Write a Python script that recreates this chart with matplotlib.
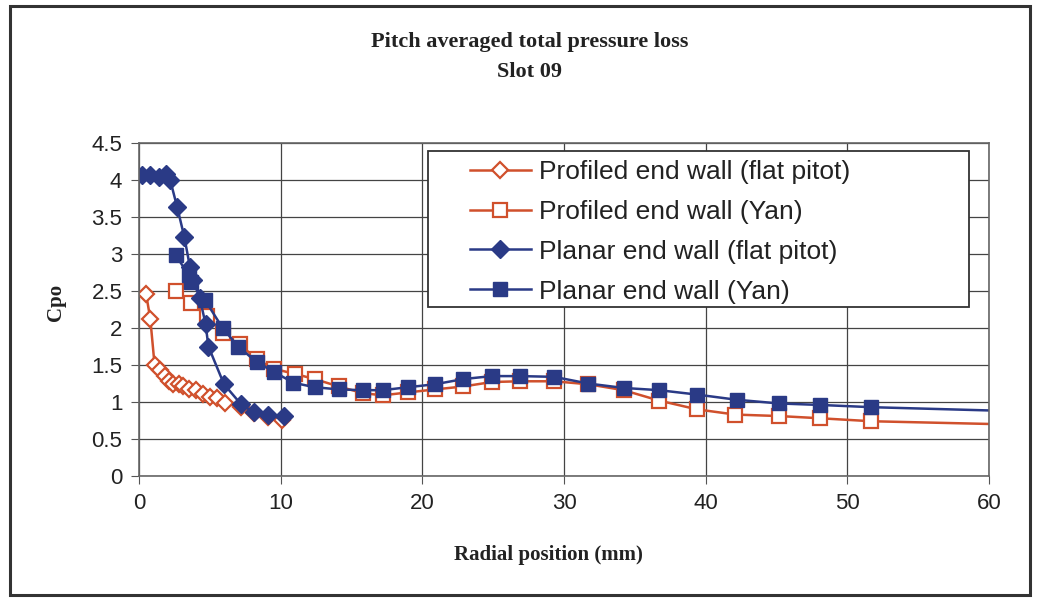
import matplotlib
matplotlib.use("Agg")
import matplotlib.pyplot as plt
import matplotlib.patches as patches

# Profiled end wall (flat pitot)
prof_flat_x = [0.5, 0.8, 1.1, 1.5, 1.8, 2.1, 2.4, 2.8, 3.1, 3.5, 4.0, 4.5, 5.0, 5.5, 6.1, 7.2, 8.1, 9.1, 10.1]
prof_flat_y = [2.46, 2.12, 1.50, 1.43, 1.35, 1.28, 1.25, 1.24, 1.21, 1.18, 1.16, 1.11, 1.07, 1.05, 0.98, 0.93, 0.85, 0.80, 0.76]

# Profiled end wall (Yan)
prof_yan_x = [2.6, 3.7, 4.8, 5.9, 7.1, 8.3, 9.5, 11.0, 12.4, 14.1, 15.8, 17.2, 19.0, 20.9, 22.9, 24.9, 26.9,
              29.3, 31.7, 34.2, 36.7, 39.4, 42.1, 45.2, 48.1, 51.7, 63.0]
prof_yan_y = [2.50, 2.34, 2.16, 1.93, 1.78, 1.58, 1.45, 1.38, 1.31, 1.21, 1.12, 1.09, 1.13, 1.17, 1.21, 1.27, 1.28,
              1.28, 1.24, 1.16, 1.02, 0.90, 0.83, 0.81, 0.78, 0.74, 0.69]

# Planar end wall (flat pitot)
plan_flat_x = [0.2, 0.8, 1.4, 1.9, 2.2, 2.7, 3.2, 3.6, 3.8, 4.3, 4.7, 4.9, 6.0, 7.2, 8.1, 9.1, 10.2]
plan_flat_y = [4.07, 4.07, 4.04, 4.08, 4.00, 3.63, 3.23, 2.82, 2.65, 2.40, 2.05, 1.75, 1.24, 0.97, 0.86, 0.82, 0.81]

# Planar end wall (Yan)
plan_yan_x = [2.6, 3.5, 3.7, 4.65, 5.9, 7.0, 8.3, 9.5, 10.9, 12.4, 14.1, 15.8, 17.2, 19.0, 20.9, 22.9, 24.9, 26.9,
              29.3, 31.7, 34.2, 36.7, 39.4, 42.2, 45.2, 48.1, 51.7, 63.0]
plan_yan_y = [2.98, 2.72, 2.62, 2.38, 2.00, 1.75, 1.54, 1.41, 1.26, 1.20, 1.17, 1.16, 1.16, 1.20, 1.24, 1.31, 1.35, 1.35,
              1.34, 1.25, 1.19, 1.16, 1.10, 1.03, 0.98, 0.96, 0.93, 0.87]

orange = "#d0502c"
blue = "#2a3a86"
ink = "#222222"

fig = plt.figure(figsize=(10.39, 6.01), dpi=100)
fig.patches.append(patches.Rectangle((10 / 1039, 6 / 601), 1020 / 1039, 589 / 601, transform=fig.transFigure,
                                     fill=False, edgecolor="#333333", linewidth=2.2))

ax = fig.add_axes([139 / 1039, 1 - 476 / 601, (989 - 139) / 1039, (476 - 143) / 601])

ax.plot(prof_flat_x, prof_flat_y, color=orange, lw=1.8, marker="D", ms=8, mfc="white", mec=orange, mew=1.6,
        label="Profiled end wall (flat pitot)")
ax.plot(prof_yan_x, prof_yan_y, color=orange, lw=1.8, marker="s", ms=10, mfc="white", mec=orange, mew=1.6,
        label="Profiled end wall (Yan)")
ax.plot(plan_flat_x, plan_flat_y, color=blue, lw=1.8, marker="D", ms=9, mfc=blue, mec=blue,
        label="Planar end wall (flat pitot)")
ax.plot(plan_yan_x, plan_yan_y, color=blue, lw=1.8, marker="s", ms=10.5, mfc=blue, mec=blue,
        label="Planar end wall (Yan)")

ax.set_xlim(0, 60)
ax.set_ylim(0, 4.5)
ax.set_xticks(range(0, 61, 10))
ax.set_yticks([i * 0.5 for i in range(10)])
ax.set_yticklabels(["0", "0.5", "1", "1.5", "2", "2.5", "3", "3.5", "4", "4.5"])
ax.grid(True, color="#444444", linewidth=0.9)
ax.set_axisbelow(True)
for s in ax.spines.values():
    s.set_color("#666666")
    s.set_linewidth(1.2)
ax.tick_params(direction="out", length=6, color="#555555", labelsize=16, labelcolor=ink, pad=6)
for lab in ax.get_xticklabels() + ax.get_yticklabels():
    lab.set_family("Liberation Sans")

ax.set_xlabel("Radial position (mm)", family="Liberation Serif", fontweight="bold", fontsize=15, color=ink)
ax.xaxis.set_label_coords((548 - 139) / 850, -(555 - 476) / 333)
ax.set_ylabel("Cpo", family="Liberation Serif", fontweight="bold", fontsize=15, color=ink)
ax.yaxis.set_label_coords(-(139 - 56) / 850, 1 - (302 - 143) / 333)
ax.xaxis.label.set_va("center")
ax.yaxis.label.set_va("center")

fig.text(0.51, 1 - 42 / 601, "Pitch averaged total pressure loss", ha="center", va="center",
         family="Liberation Serif", fontweight="bold", fontsize=16, color=ink)
fig.text(0.51, 1 - 72 / 601, "Slot 09", ha="center", va="center",
         family="Liberation Serif", fontweight="bold", fontsize=16, color=ink)

# legend frame drawn separately so the entries can sit inset like the original
ax.add_patch(patches.Rectangle(((428 - 139) / 850, 1 - (307 - 143) / 333), (969 - 428) / 850, (307 - 151) / 333,
                               transform=ax.transAxes, facecolor="white", edgecolor="#333333", linewidth=1.3,
                               zorder=4))
leg = ax.legend(loc="upper left", bbox_to_anchor=((470 - 139) / 850, 1 - (160 - 143) / 333),
                prop={"family": "Liberation Sans", "size": 19}, frameon=False, handlelength=2.3,
                labelspacing=0.6, borderpad=0, handletextpad=0.3, borderaxespad=0)
leg.set_zorder(5)
for t in leg.get_texts():
    t.set_color(ink)

fig.savefig("out.png", dpi=100)
